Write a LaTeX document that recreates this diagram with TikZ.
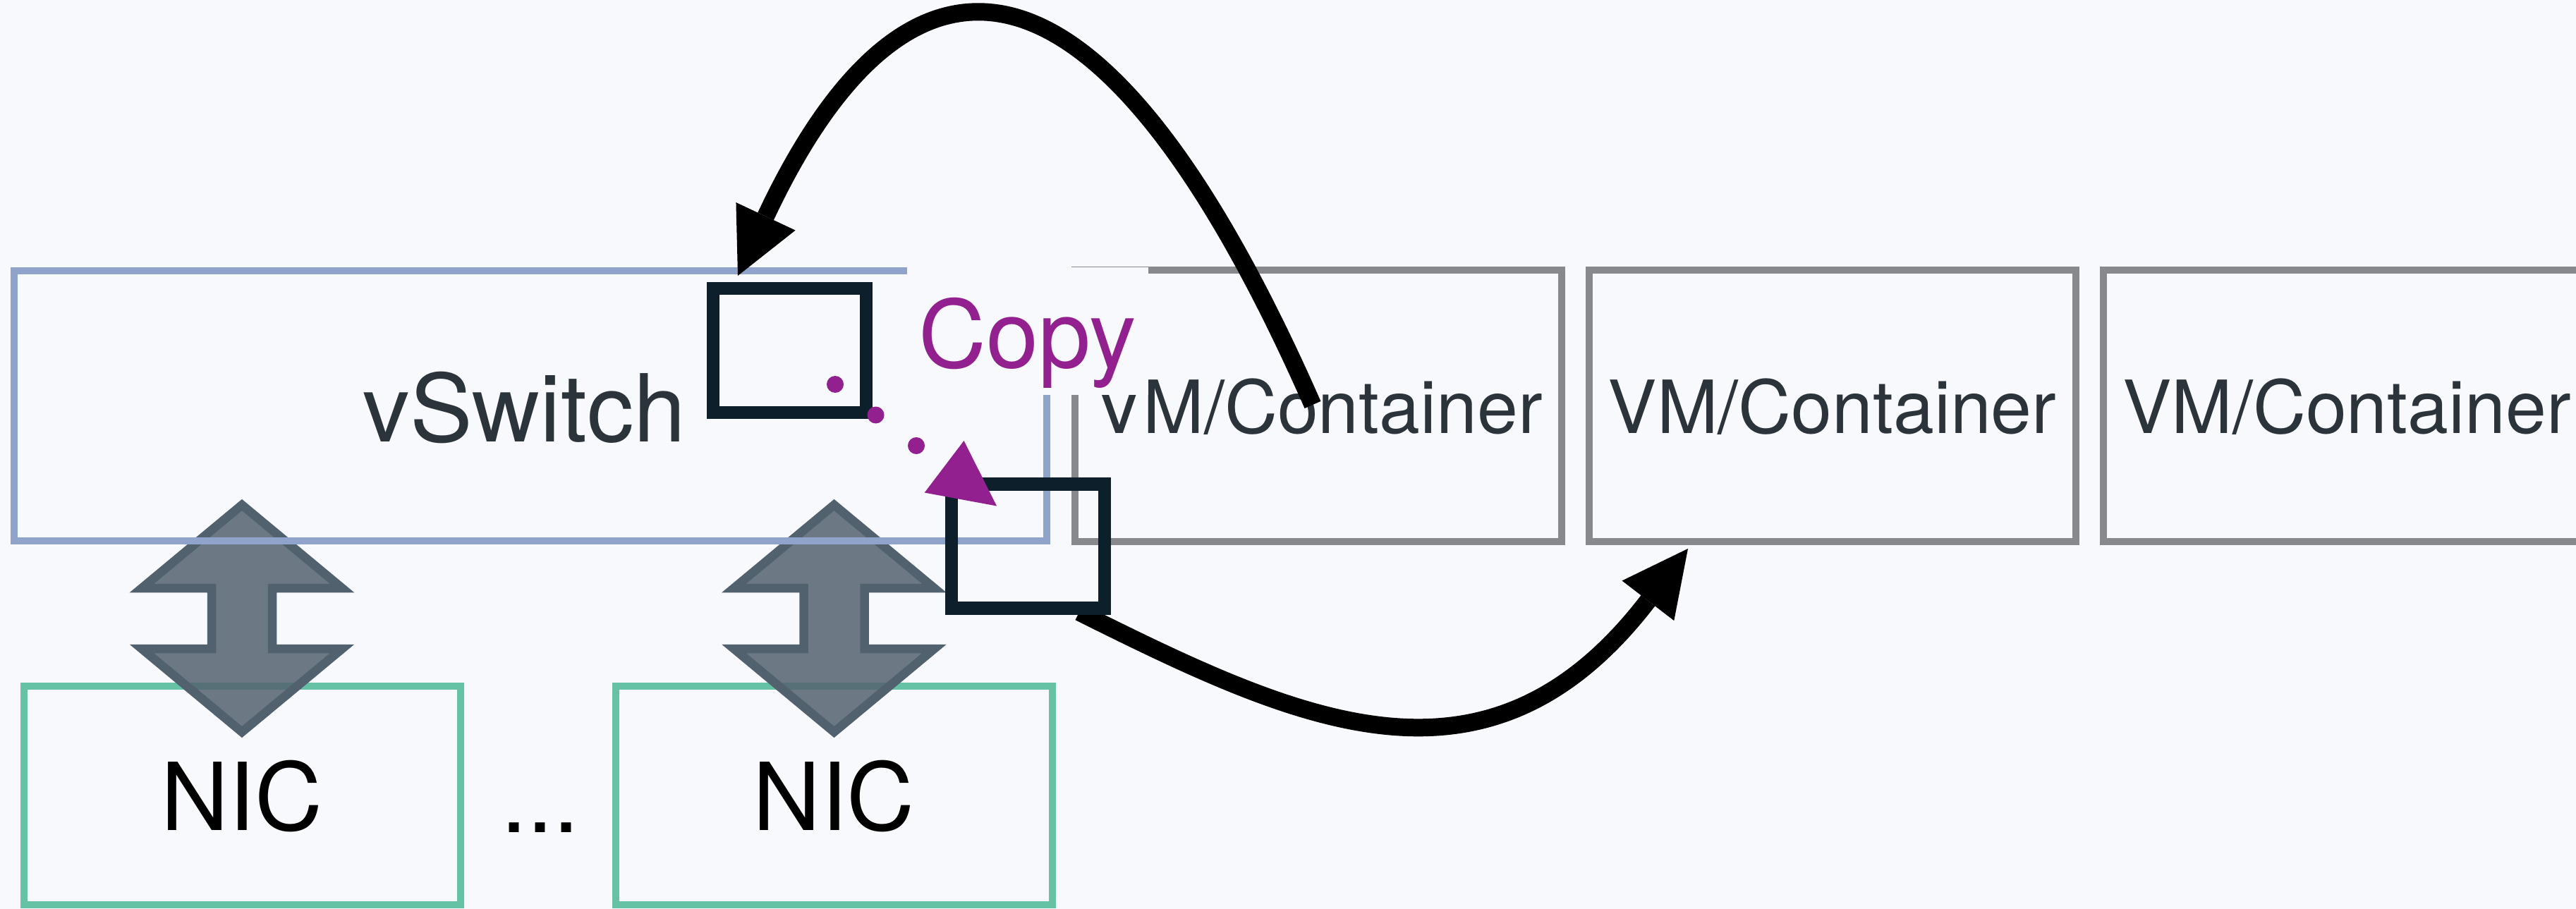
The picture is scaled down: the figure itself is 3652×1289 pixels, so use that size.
\documentclass[tikz,border=0pt]{standalone}
\usepackage{fontspec}
\setmainfont{TeX Gyre Heros}
\usetikzlibrary{arrows.meta}
\definecolor{bgc}{HTML}{F7F9FD}
\definecolor{swblue}{HTML}{8FA3CB}
\definecolor{vmgray}{HTML}{87898D}
\definecolor{nicgreen}{HTML}{66C2A5}
\definecolor{txtdark}{HTML}{2B333B}
\definecolor{navy}{HTML}{0C1F2B}
\definecolor{copyc}{HTML}{93208F}
\definecolor{slate}{HTML}{52616E}
\newcommand\bigfnt{\fontsize{133}{150}\selectfont}
\newcommand\vmfnt{\fontsize{104}{120}\selectfont}
\begin{document}
\begin{tikzpicture}[x=1pt,y=-1pt,
  boxbase/.style={draw, line width=10pt, inner sep=0pt},
  vmbox/.style={boxbase, draw=vmgray, minimum width=690pt, minimum height=385pt,
    text=txtdark, font=\vmfnt, text depth=0pt},
  nicbox/.style={boxbase, draw=nicgreen, minimum width=619pt, minimum height=310pt,
    text=black, font=\bigfnt, text depth=0pt},
  swbox/.style={boxbase, draw=swblue, minimum width=1464pt, minimum height=383pt},
  sqbox/.style={draw=navy, line width=18.5pt, minimum width=217pt, minimum height=176pt, inner sep=0pt},
  darrow/.style={draw=slate, fill=slate, fill opacity=.84, line width=12.5pt, miter limit=10},
  bigflow/.style={line width=25pt, black, -{Triangle[length=93pt,width=93pt,line width=0pt]}},
  copydots/.style={copyc, line width=24pt, line cap=round, dash pattern=on 0pt off 72.1pt}
]
\useasboundingbox (0,0) rectangle (3652,1289);
\fill[bgc] (0,0) rectangle (3652,1289);

% NIC boxes
\node[nicbox] (nic1) at (343,1128) {NIC};
\node[nicbox] (nic2) at (1182.5,1128) {NIC};
\node[font=\bigfnt, text=black, anchor=base, inner sep=0pt] (dots) at (766,1180) {...};

% double arrows between NICs and vSwitch
\foreach \cx in {343,1182.5}{
  \draw[darrow] (\cx,716) -- ({\cx+142},834) -- ({\cx+43},834) -- ({\cx+43},920)
    -- ({\cx+142},920) -- (\cx,1038) -- ({\cx-142},920) -- ({\cx-43},920)
    -- ({\cx-43},834) -- ({\cx-142},834) -- cycle;
}

% vSwitch
\node[swbox] (vswitch) at (752,575.5) {};
\node[font=\bigfnt, text=txtdark, anchor=base east, inner sep=0pt] (vslabel) at (973,626) {vSwitch};

% VM / Container boxes
\node[vmbox] (vm1) at (1869,575.5) {VM/Container};
\node[vmbox] (vm2) at (2597.5,575.5) {VM/Container};
\node[vmbox] (vm3) at (3327,575.5) {VM/Container};

% flow leaving the second packet (drawn under the squares)
\coordinate (bStart) at (1530,868);
\coordinate (bEnd) at (2393,778);
\draw[bigflow] (bStart) .. controls (1843,1024) and (2109,1148) .. (bEnd);

% packet squares
\node[sqbox] (sq1) at (1119.5,496.75) {};
\node[sqbox] (sq2) at (1457.5,774.25) {};

% Copy label with background
\node[fill=bgc, inner sep=0pt, minimum width=342pt, minimum height=181pt,
  text height=103pt, text depth=0pt, font=\bigfnt, text=copyc] (copy) at (1457,469.5) {Copy};

% dotted copy path and its head
\coordinate (dotA) at (1184,545);
\coordinate (dotB) at (1299,632);
\draw[copydots] (dotA) -- (dotB);
\fill[copyc] (1366.5,625) -- (1310.7,698.6) -- (1413,717.5) -- cycle;

% flow back to the vSwitch
\coordinate (aStart) at (1861,574);
\coordinate (aEnd) at (1046,391);
\draw[bigflow] (aStart) .. controls (1546.7,-139.7) and (1275.5,-97.7) .. (aEnd);
\end{tikzpicture}
\end{document}
